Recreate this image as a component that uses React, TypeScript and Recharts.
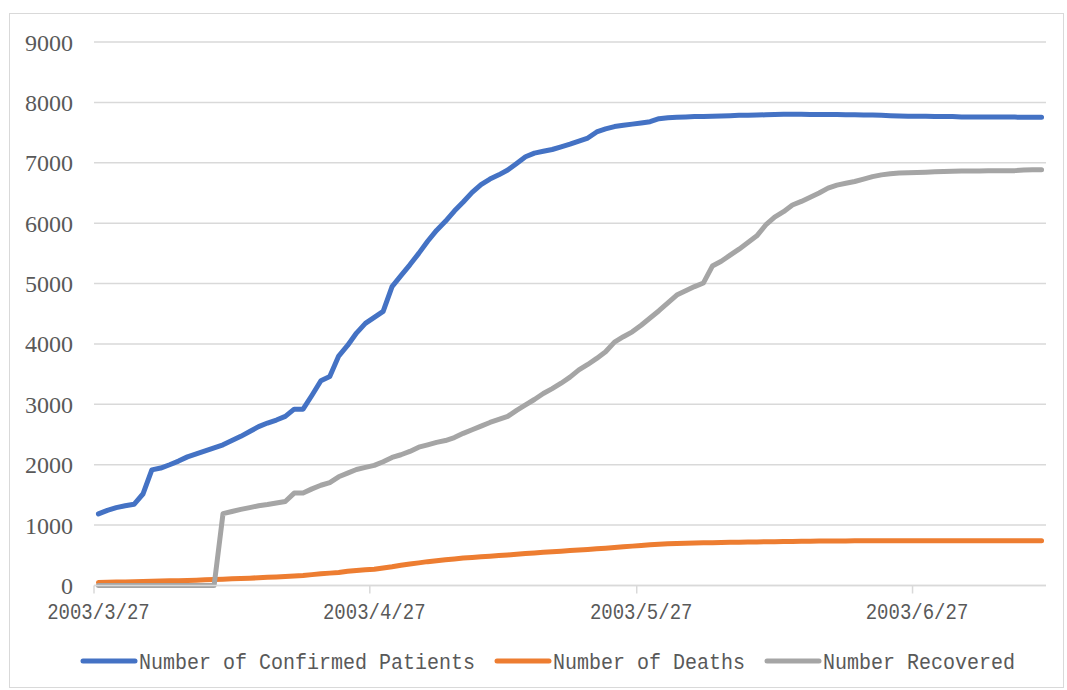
import React from 'react';
import { LineChart, Line, XAxis, YAxis, CartesianGrid, Legend } from 'recharts';

// cumulative counts, one value per day from 2003/3/27 to 2003/7/11
const confirmed = [
  1185, 1245, 1290, 1320, 1345, 1515, 1914, 1945, 2000, 2060,
  2130, 2180, 2230, 2280, 2330, 2400, 2470, 2550, 2630, 2690,
  2740, 2800, 2920, 2920, 3150, 3390, 3460, 3800, 3975, 4180,
  4340, 4440, 4540, 4950, 5130, 5310, 5500, 5700, 5880, 6030,
  6200, 6350, 6510, 6640, 6730, 6800, 6880, 6990, 7100, 7160,
  7190, 7220, 7265, 7310, 7360, 7410, 7510, 7560, 7600, 7620,
  7640, 7660, 7680, 7730, 7745, 7755, 7760, 7765, 7765, 7770,
  7775, 7780, 7785, 7785, 7790, 7795, 7800, 7805, 7805, 7805,
  7800, 7800, 7800, 7800, 7795, 7795, 7790, 7790, 7785, 7780,
  7775, 7770, 7770, 7770, 7765, 7765, 7765, 7760, 7760, 7760,
  7760, 7760, 7758, 7756, 7755, 7755, 7755,
];

const deaths = [
  50, 53, 56, 58, 62, 66, 70, 73, 77, 80,
  84, 88, 95, 100, 104, 110, 116, 122, 128, 135,
  142, 150, 157, 165, 180, 195, 205, 215, 235, 250,
  260, 268, 290, 310, 335, 355, 375, 395, 410, 425,
  440, 455, 465, 475, 485, 495, 505, 518, 530, 540,
  550, 560, 568, 578, 588, 598, 608, 618, 628, 640,
  652, 662, 675, 685, 692, 697, 700, 703, 706, 709,
  712, 715, 718, 720, 722, 724, 726, 728, 730, 732,
  734, 735, 736, 737, 738, 739, 740, 741, 741, 742,
  742, 742, 742, 742, 742, 742, 742, 742, 742, 742,
  742, 742, 742, 742, 742, 742, 742,
];

const recovered = [
  0, 0, 0, 0, 0, 0, 0, 0, 0, 0,
  0, 0, 0, 0, 1190, 1225, 1260, 1290, 1320, 1340,
  1365, 1390, 1530, 1530, 1600, 1660, 1705, 1800, 1860, 1920,
  1955, 1990, 2050, 2120, 2165, 2220, 2290, 2330, 2370, 2400,
  2450, 2520, 2580, 2640, 2700, 2750, 2800, 2900, 2990, 3080,
  3180, 3260, 3350, 3450, 3570, 3660, 3760, 3870, 4030, 4120,
  4200, 4310, 4430, 4550, 4680, 4810, 4880, 4950, 5010, 5290,
  5370, 5470, 5570, 5680, 5790, 5970, 6100, 6190, 6300, 6360,
  6430, 6500, 6580, 6630, 6660, 6690, 6730, 6770, 6800, 6820,
  6830, 6835, 6840, 6845, 6850, 6855, 6860, 6865, 6865, 6865,
  6868, 6868, 6868, 6870, 6880, 6885, 6885,
];

// x ticks: day index -> label
const tickDays = [0, 31, 61, 92];
const tickLabels = ['2003/3/27', '2003/4/27', '2003/5/27', '2003/6/27'];
const yTicks = [0, 1000, 2000, 3000, 4000, 5000, 6000, 7000, 8000, 9000];

const seriesNames = ['Number of Confirmed Patients', 'Number of Deaths', 'Number Recovered'];
const seriesColors = ['#4472C4', '#ED7D31', '#A5A5A5'];

const chartData = confirmed.map((c, i) => ({
  day: i,
  confirmed: c,
  deaths: deaths[i],
  recovered: recovered[i],
}));

const AXIS_GREY = '#D9D9D9';
const TEXT_GREY = '#595959';
const MONO = '"Liberation Mono", "DejaVu Sans Mono", monospace';
const CHAR_W = 12;
const HALF_SLOT = 4.45; // Excel date axis: tick marks sit between days

const DateTick = (props: any) => {
  const { x, y, payload } = props;
  const idx = tickDays.indexOf(payload.value);
  const label = idx >= 0 ? tickLabels[idx] : '';
  return (
    <g>
      <line x1={x - HALF_SLOT} x2={x - HALF_SLOT} y1={y} y2={y + 8} stroke={AXIS_GREY} strokeWidth={1.5} />
      <text
        x={x}
        y={y + 25.5}
        dy="0.35em"
        textAnchor="middle"
        fill={TEXT_GREY}
        fontFamily={MONO}
        fontSize={22}
        textLength={label.length * 11.4}
        lengthAdjust="spacingAndGlyphs"
      >
        {label}
      </text>
    </g>
  );
};

const renderLegend = (props: any) => {
  // keep the series order rather than the legend's alphabetical sort
  const payload = [...(props.payload || [])].sort(
    (a: any, b: any) => seriesNames.indexOf(String(a.value)) - seriesNames.indexOf(String(b.value))
  );
  let cursor = 71;
  const items = payload.map((entry: any) => {
    const name = String(entry.value);
    const x0 = cursor;
    const textW = name.length * CHAR_W;
    cursor = x0 + 56 + 2 + textW + 20;
    return (
      <g key={name}>
        <line x1={x0 + 2} x2={x0 + 54} y1={15} y2={15} stroke={entry.color} strokeWidth={5} strokeLinecap="round" />
        <text
          x={x0 + 58}
          y={15}
          dy="0.35em"
          fill={TEXT_GREY}
          fontFamily={MONO}
          fontSize={22}
          textLength={textW}
          lengthAdjust="spacingAndGlyphs"
        >
          {name}
        </text>
      </g>
    );
  });
  return (
    <svg width={1053} height={30} style={{ display: 'block' }}>
      {items}
    </svg>
  );
};

export default function App() {
  return (
    <div
      style={{
        position: 'absolute',
        left: 9,
        top: 13,
        width: 1053,
        height: 673,
        border: `1px solid ${AXIS_GREY}`,
        background: '#fff',
      }}
    >
      <LineChart
        width={1053}
        height={673}
        data={chartData}
        margin={{ top: 28, right: 17, left: 0, bottom: 31.5 }}
      >
        <CartesianGrid vertical={false} stroke={AXIS_GREY} strokeWidth={1.5} />
        <XAxis
          dataKey="day"
          type="number"
          domain={[-0.5, 106.5]}
          ticks={tickDays}
          interval={0}
          height={40}
          tickLine={false}
          tickSize={0}
          tickMargin={0}
          axisLine={{ stroke: AXIS_GREY, strokeWidth: 1.5 }}
          tick={<DateTick />}
        />
        <YAxis
          width={84}
          domain={[0, 9000]}
          ticks={yTicks}
          interval={0}
          axisLine={false}
          tickLine={false}
          tickSize={0}
          tickMargin={21}
          tick={{ fill: TEXT_GREY, fontSize: 24, fontFamily: '"Liberation Serif", serif' }}
        />
        <Legend
          verticalAlign="bottom"
          height={30}
          content={renderLegend}
          wrapperStyle={{ position: 'absolute', top: 632, left: 0, width: 1053, height: 30 }}
        />
        <Line
          type="linear"
          dataKey="confirmed"
          name={seriesNames[0]}
          stroke={seriesColors[0]}
          strokeWidth={5}
          strokeLinecap="round"
          strokeLinejoin="round"
          dot={false}
          isAnimationActive={false}
        />
        <Line
          type="linear"
          dataKey="deaths"
          name={seriesNames[1]}
          stroke={seriesColors[1]}
          strokeWidth={5}
          strokeLinecap="round"
          strokeLinejoin="round"
          dot={false}
          isAnimationActive={false}
        />
        <Line
          type="linear"
          dataKey="recovered"
          name={seriesNames[2]}
          stroke={seriesColors[2]}
          strokeWidth={5}
          strokeLinecap="round"
          strokeLinejoin="round"
          dot={false}
          isAnimationActive={false}
        />
      </LineChart>
    </div>
  );
}
